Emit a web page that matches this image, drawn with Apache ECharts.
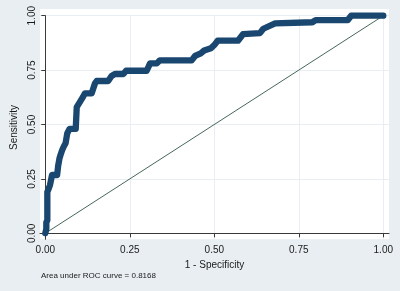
<!DOCTYPE html>
<html>
<head>
<meta charset="utf-8">
<script src="https://cdn.jsdelivr.net/npm/echarts@6/dist/echarts.min.js"></script>
<style>
html,body{margin:0;padding:0;background:#e8eef2;}
#c{width:400px;height:291px;}
</style>
</head>
<body>
<div id="c"></div>
<script>
// 1 - Specificity (false positive rate)
var fpr = [0, 0.003, 0.003, 0.006, 0.006, 0.010, 0.014, 0.020, 0.035, 0.038, 0.042, 0.045, 0.050, 0.055, 0.060, 0.065, 0.072, 0.090, 0.093, 0.103, 0.112, 0.117, 0.137, 0.147, 0.152, 0.186, 0.196, 0.206, 0.231, 0.239, 0.300, 0.310, 0.330, 0.339, 0.433, 0.443, 0.460, 0.470, 0.490, 0.500, 0.510, 0.570, 0.585, 0.635, 0.645, 0.680, 0.790, 0.800, 0.895, 0.905, 1.000];
// Sensitivity (true positive rate)
var tpr = [0, 0.020, 0.050, 0.060, 0.190, 0.205, 0.222, 0.268, 0.268, 0.310, 0.345, 0.360, 0.383, 0.400, 0.414, 0.460, 0.480, 0.480, 0.580, 0.605, 0.628, 0.643, 0.643, 0.689, 0.700, 0.700, 0.723, 0.732, 0.732, 0.747, 0.747, 0.781, 0.781, 0.795, 0.795, 0.815, 0.827, 0.840, 0.850, 0.865, 0.885, 0.885, 0.915, 0.920, 0.940, 0.965, 0.970, 0.980, 0.980, 1.000, 1.000];
// Reference (chance) line
var refX = [0, 1];
var refY = [0, 1];
// Tick values and labels
var tickValues = [0, 0.25, 0.5, 0.75, 1];
var tickLabels = ['0.00', '0.25', '0.50', '0.75', '1.00'];
var xTitle = '1 - Specificity';
var yTitle = 'Sensitivity';
var note = 'Area under ROC curve = 0.8168';

function lab(v) {
  for (var i = 0; i < tickValues.length; i++) {
    if (Math.abs(tickValues[i] - v) < 1e-6) return tickLabels[i];
  }
  return '';
}

var chart = echarts.init(document.getElementById('c'), null, {renderer: 'canvas'});
var font = 'Liberation Sans, Arial, Helvetica, sans-serif';
var axisCol = '#3a3a3a';
var gridCol = '#e8eef2';

chart.setOption({
  animation: false,
  backgroundColor: '#e8eef2',
  textStyle: {fontFamily: font},
  graphic: [{
    type: 'rect',
    z: -100,
    shape: {x: 40, y: 9, width: 349, height: 230.3},
    style: {fill: '#ffffff'},
    silent: true
  }],
  title: {
    text: note,
    left: 41,
    top: 271.5,
    padding: 0,
    textStyle: {fontSize: 8, fontWeight: 'normal', color: '#1a1a1a', fontFamily: font}
  },
  grid: {left: 40, right: 11, top: 15.7, bottom: 51.7, containLabel: false},
  xAxis: {
    type: 'value',
    min: -0.0157,
    max: 1.0169,
    name: xTitle,
    nameLocation: 'middle',
    nameGap: 15,
    nameTextStyle: {fontSize: 10, color: '#1a1a1a', fontFamily: font},
    axisLine: {show: true, lineStyle: {color: axisCol, width: 1}},
    axisTick: {show: true, length: 4, customValues: tickValues, lineStyle: {color: axisCol}},
    axisLabel: {customValues: tickValues, formatter: lab, fontSize: 10, color: '#1a1a1a', margin: 6, fontFamily: font},
    splitLine: {show: true, lineStyle: {color: gridCol, width: 1}}
  },
  yAxis: {
    type: 'value',
    min: -0.02757,
    max: 1,
    name: yTitle,
    nameLocation: 'middle',
    nameGap: 16,
    nameTextStyle: {fontSize: 10, color: '#1a1a1a', fontFamily: font},
    axisLine: {show: true, lineStyle: {color: axisCol, width: 1}},
    axisTick: {show: true, length: 4, customValues: tickValues, lineStyle: {color: axisCol}},
    axisLabel: {customValues: tickValues, formatter: lab, fontSize: 10, color: '#1a1a1a', margin: 3, rotate: 90, fontFamily: font},
    splitLine: {show: true, lineStyle: {color: gridCol, width: 1}}
  },
  series: [
    {
      type: 'line',
      data: refX.map(function (x, i) { return [x, refY[i]]; }),
      showSymbol: false,
      clip: false,
      z: 2,
      lineStyle: {color: '#46675a', width: 1}
    },
    {
      type: 'line',
      data: fpr.map(function (x, i) { return [x, tpr[i]]; }),
      showSymbol: false,
      clip: false,
      z: 3,
      lineStyle: {color: '#1a476f', width: 6.3, cap: 'round', join: 'round'}
    }
  ]
});
</script>
</body>
</html>
